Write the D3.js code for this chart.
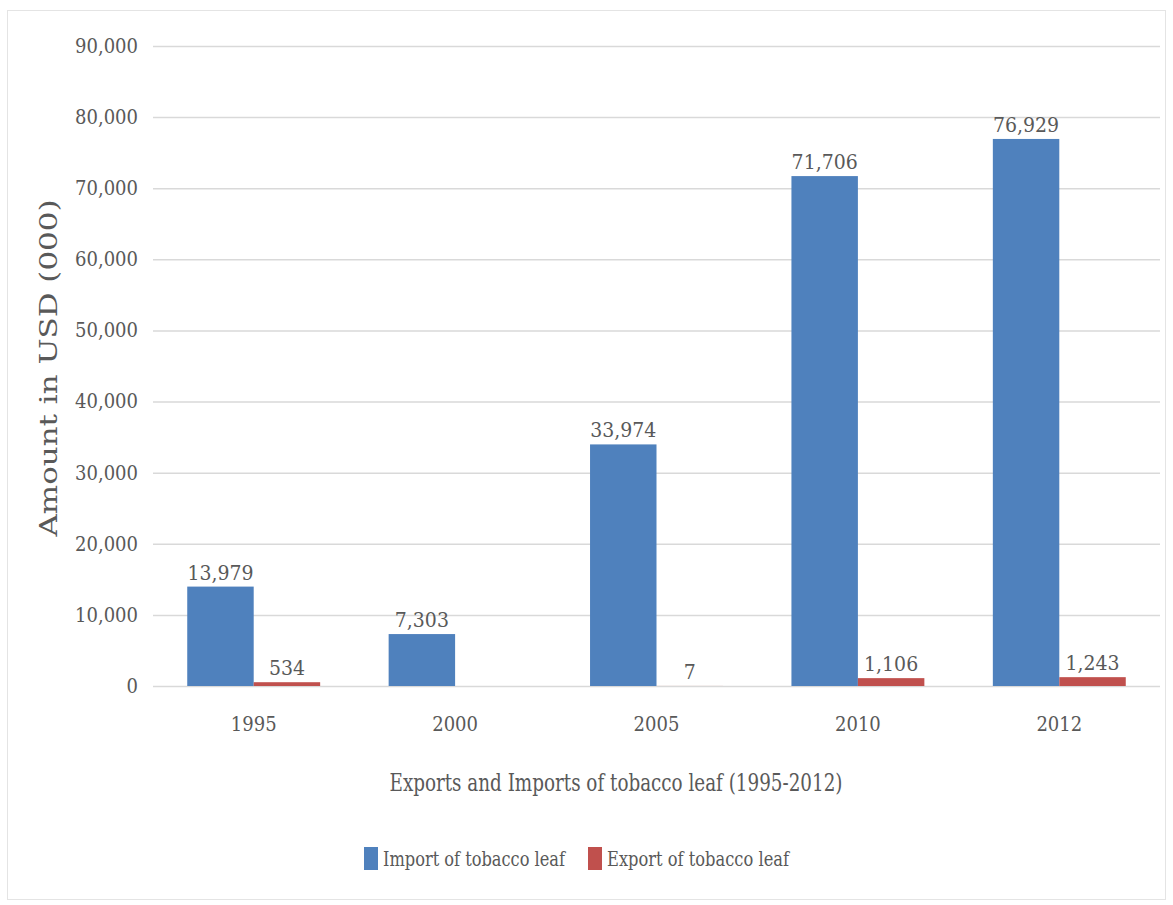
<!DOCTYPE html>
<html>
<head>
<meta charset="utf-8">
<script src="https://cdn.jsdelivr.net/npm/d3@7"></script>
<style>
  html, body { margin: 0; padding: 0; background: #fff; }
  svg { display: block; }
  text { font-family: "DejaVu Serif", serif; fill: #595959; }
  .cond { font-stretch: condensed; font-family: "DejaVu Serif Condensed", "DejaVu Serif", serif; }
</style>
</head>
<body>
<svg id="chart" width="1173" height="905"></svg>
<script>
// Years shown on the category axis
const years = ["1995", "2000", "2005", "2010", "2012"];
// Import of tobacco leaf, USD (000)
const importValues = [13979, 7303, 33974, 71706, 76929];
// Export of tobacco leaf, USD (000); no export recorded for 2000
const exportValues = [534, null, 7, 1106, 1243];
// Value-axis ticks
const yTicks = [0, 10000, 20000, 30000, 40000, 50000, 60000, 70000, 80000, 90000];

const seriesNames = ["Import of tobacco leaf", "Export of tobacco leaf"];
const seriesColors = ["#4f81bd", "#c0504d"];

const svg = d3.select("#chart");
const plot = { left: 153, right: 1160, top: 46, bottom: 686 };

// outer frame
svg.append("rect")
  .attr("x", 7.5).attr("y", 10.5)
  .attr("width", 1158).attr("height", 889)
  .attr("fill", "#fff").attr("stroke", "#e4e4e4").attr("stroke-width", 1);

const y = d3.scaleLinear().domain([0, 90000]).range([plot.bottom, plot.top]);
const x0 = d3.scaleBand().domain(years).range([plot.left, plot.right])
  .paddingInner(0.34).paddingOuter(0.17);
const x1 = d3.scaleBand().domain([0, 1]).range([0, x0.bandwidth()]).padding(0);

const fmt = d3.format(",");

// gridlines + tick labels
const yAxis = d3.axisLeft(y).tickValues(yTicks).tickFormat(fmt)
  .tickSize(-(plot.right - plot.left)).tickPadding(15);
const gy = svg.append("g").attr("transform", `translate(${plot.left},0)`).call(yAxis);
gy.select(".domain").remove();
gy.selectAll(".tick line").attr("stroke", "#d9d9d9").attr("stroke-width", 1.5);
gy.selectAll(".tick text").attr("class", "cond").attr("font-size", 20)
  .attr("fill", "#595959").style("font-family", null);

// category axis labels
const xAxis = d3.axisBottom(x0).tickSize(0).tickPadding(31);
const gx = svg.append("g").attr("transform", `translate(0,${plot.bottom})`).call(xAxis);
gx.select(".domain").remove();
gx.selectAll(".tick text").attr("class", "cond").attr("font-size", 20)
  .attr("fill", "#595959").style("font-family", null);

// bars
const rows = years.map((yr, i) => ({ year: yr, vals: [importValues[i], exportValues[i]] }));
const groups = svg.append("g").selectAll("g").data(rows).join("g")
  .attr("transform", d => `translate(${x0(d.year)},0)`);

groups.selectAll("rect")
  .data(d => d.vals.map((v, s) => ({ v, s })).filter(e => e.v !== null))
  .join("rect")
  .attr("x", e => x1(e.s))
  .attr("y", e => y(e.v))
  .attr("width", x1.bandwidth())
  .attr("height", e => y(0) - y(e.v))
  .attr("fill", e => seriesColors[e.s]);

groups.selectAll("text.val")
  .data(d => d.vals.map((v, s) => ({ v, s })).filter(e => e.v !== null))
  .join("text")
  .attr("class", "val cond")
  .attr("x", e => x1(e.s) + x1.bandwidth() / 2)
  .attr("y", e => y(e.v) - 7)
  .attr("text-anchor", "middle")
  .attr("font-size", 21)
  .text(e => fmt(e.v));

// value-axis title
svg.append("text")
  .attr("transform", "translate(57,368) rotate(-90)")
  .attr("text-anchor", "middle")
  .attr("font-size", 25)
  .attr("textLength", 337)
  .attr("lengthAdjust", "spacingAndGlyphs")
  .text("Amount in USD (000)");

// category-axis title
svg.append("text")
  .attr("class", "cond")
  .attr("x", 616)
  .attr("y", 791)
  .attr("text-anchor", "middle")
  .attr("font-size", 25)
  .attr("textLength", 453)
  .attr("lengthAdjust", "spacingAndGlyphs")
  .text("Exports and Imports of tobacco leaf (1995-2012)");

// legend
const legendItems = [
  { name: seriesNames[0], color: seriesColors[0], x: 364 },
  { name: seriesNames[1], color: seriesColors[1], x: 588 }
];
const lg = svg.append("g").selectAll("g").data(legendItems).join("g")
  .attr("transform", d => `translate(${d.x},847)`);
lg.append("rect").attr("width", 14).attr("height", 23).attr("fill", d => d.color);
lg.append("text").attr("class", "cond").attr("x", 19).attr("y", 19)
  .attr("font-size", 21)
  .attr("textLength", 182)
  .attr("lengthAdjust", "spacingAndGlyphs")
  .text(d => d.name);
</script>
</body>
</html>
